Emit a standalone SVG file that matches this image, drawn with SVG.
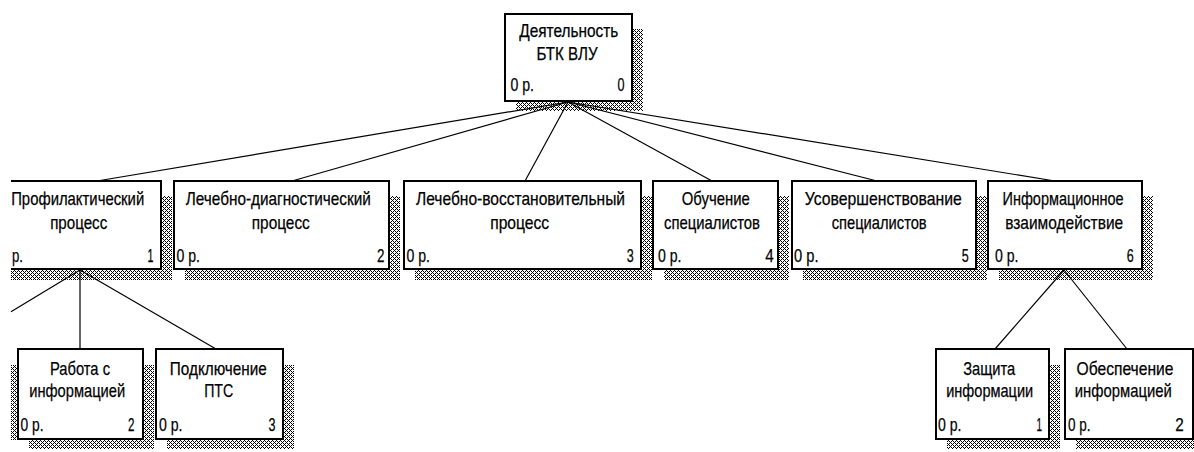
<svg xmlns="http://www.w3.org/2000/svg" width="1194" height="452" viewBox="0 0 1194 452">
  <defs>
    <!-- dithered cross-hatch used for the drop shadows -->
    <pattern id="hatch" width="4" height="4" patternUnits="userSpaceOnUse">
      <rect x="0" y="0" width="1" height="1" fill="#000"/>
      <rect x="1" y="1" width="1" height="1" fill="#000"/>
      <rect x="2" y="2" width="1" height="1" fill="#000"/>
      <rect x="3" y="3" width="1" height="1" fill="#000"/>
      <rect x="3" y="1" width="1" height="1" fill="#000"/>
      <rect x="1" y="3" width="1" height="1" fill="#000"/>
    </pattern>
    <clipPath id="page"><rect x="11" y="0" width="1183" height="452"/></clipPath>
  </defs>
  <style>
    .box { fill: #fff; stroke: #000; stroke-width: 2; shape-rendering: crispEdges; }
    .shadow { fill: url(#hatch); shape-rendering: crispEdges; }
    .edge { fill: none; stroke: #000; stroke-width: 1.2; }
    text { font-family: "Liberation Sans", Arial, sans-serif; font-size: 18.5px; fill: #000; stroke: #000; stroke-width: 0.25; }
    .c { text-anchor: middle; }
    .r { text-anchor: end; }
  </style>
  <rect x="0" y="0" width="1194" height="452" fill="#fff"/>

  <g id="connectors" class="edge">
    <line x1="568" y1="102" x2="97" y2="181"/>
    <line x1="568" y1="102" x2="292" y2="181"/>
    <line x1="568" y1="102" x2="525" y2="181"/>
    <line x1="568" y1="102" x2="712" y2="181"/>
    <line x1="568" y1="102" x2="877" y2="181"/>
    <line x1="568" y1="102" x2="1055" y2="181"/>
    <line x1="80" y1="270" x2="11" y2="311.7"/>
    <line x1="80" y1="270" x2="80" y2="349"/>
    <line x1="80" y1="270" x2="216" y2="349"/>
    <line x1="1064" y1="270" x2="995" y2="349"/>
    <line x1="1064" y1="270" x2="1127" y2="349"/>
  </g>

  <!-- shadow of a sibling box lying outside the page -->
  <rect class="shadow" x="11" y="365" width="6" height="75"/>

  <g id="node-0">
    <rect class="shadow" x="516" y="29" width="127" height="82"/>
    <rect class="box" x="505" y="14" width="127" height="87"/>
    <text class="c" x="568.8" y="37" textLength="99" lengthAdjust="spacingAndGlyphs">Деятельность</text>
    <text class="c" x="567" y="60" textLength="61" lengthAdjust="spacingAndGlyphs">БТК ВЛУ</text>
    <text x="510.5" y="90.5" textLength="23.5" lengthAdjust="spacingAndGlyphs">0 р.</text>
    <text class="r" x="624.5" y="90.5" textLength="7" lengthAdjust="spacingAndGlyphs">0</text>
  </g>

  <g id="node-1" clip-path="url(#page)">
    <rect class="shadow" x="6" y="196" width="166" height="84"/>
    <rect x="-5" y="181" width="166" height="88" fill="#fff"/>
    <path d="M11,181 H161 V269 H11" fill="none" stroke="#000" stroke-width="2" shape-rendering="crispEdges"/>
    <text class="c" x="77.7" y="205" textLength="133" lengthAdjust="spacingAndGlyphs">Профилактический</text>
    <text class="c" x="78.7" y="229" textLength="57" lengthAdjust="spacingAndGlyphs">процесс</text>
    <text x="12" y="261.5" textLength="11" lengthAdjust="spacingAndGlyphs">р.</text>
    <text class="r" x="153.5" y="261.5" textLength="6" lengthAdjust="spacingAndGlyphs">1</text>
  </g>

  <g id="node-2">
    <rect class="shadow" x="185" y="196" width="215" height="84"/>
    <rect class="box" x="174" y="181" width="215" height="88"/>
    <text class="c" x="278.3" y="205" textLength="185" lengthAdjust="spacingAndGlyphs">Лечебно-диагностический</text>
    <text class="c" x="280.8" y="229" textLength="58" lengthAdjust="spacingAndGlyphs">процесс</text>
    <text x="176.5" y="261.5" textLength="23.5" lengthAdjust="spacingAndGlyphs">0 р.</text>
    <text class="r" x="384.5" y="261.5" textLength="7.5" lengthAdjust="spacingAndGlyphs">2</text>
  </g>

  <g id="node-3">
    <rect class="shadow" x="415" y="196" width="237" height="84"/>
    <rect class="box" x="404" y="181" width="237" height="88"/>
    <text class="c" x="520.5" y="205" textLength="209" lengthAdjust="spacingAndGlyphs">Лечебно-восстановительный</text>
    <text class="c" x="519.7" y="229" textLength="59" lengthAdjust="spacingAndGlyphs">процесс</text>
    <text x="406.5" y="261.5" textLength="23.5" lengthAdjust="spacingAndGlyphs">0 р.</text>
    <text class="r" x="633.8" y="261.5" textLength="7" lengthAdjust="spacingAndGlyphs">3</text>
  </g>

  <g id="node-4">
    <rect class="shadow" x="664" y="196" width="125" height="84"/>
    <rect class="box" x="653" y="181" width="125" height="88"/>
    <text class="c" x="715.8" y="205" textLength="68" lengthAdjust="spacingAndGlyphs">Обучение</text>
    <text class="c" x="712" y="229" textLength="96" lengthAdjust="spacingAndGlyphs">специалистов</text>
    <text x="658" y="261.5" textLength="23.5" lengthAdjust="spacingAndGlyphs">0 р.</text>
    <text class="r" x="773.8" y="261.5" textLength="8.5" lengthAdjust="spacingAndGlyphs">4</text>
  </g>

  <g id="node-5">
    <rect class="shadow" x="803" y="196" width="184" height="84"/>
    <rect class="box" x="792" y="181" width="184" height="88"/>
    <text class="c" x="883.3" y="205" textLength="157" lengthAdjust="spacingAndGlyphs">Усовершенствование</text>
    <text class="c" x="879.2" y="229" textLength="95" lengthAdjust="spacingAndGlyphs">специалистов</text>
    <text x="794" y="261.5" textLength="24.5" lengthAdjust="spacingAndGlyphs">0 р.</text>
    <text class="r" x="968.8" y="261.5" textLength="7" lengthAdjust="spacingAndGlyphs">5</text>
  </g>

  <g id="node-6">
    <rect class="shadow" x="999" y="196" width="154" height="84"/>
    <rect class="box" x="988" y="181" width="154" height="88"/>
    <text class="c" x="1063" y="205" textLength="121" lengthAdjust="spacingAndGlyphs">Информационное</text>
    <text class="c" x="1064.2" y="229" textLength="118" lengthAdjust="spacingAndGlyphs">взаимодействие</text>
    <text x="995" y="261.5" textLength="23.5" lengthAdjust="spacingAndGlyphs">0 р.</text>
    <text class="r" x="1133.8" y="261.5" textLength="7" lengthAdjust="spacingAndGlyphs">6</text>
  </g>

  <g id="node-1-2">
    <rect class="shadow" x="29" y="365" width="125" height="84"/>
    <rect class="box" x="18" y="349" width="125" height="90"/>
    <text class="c" x="80" y="375" textLength="60" lengthAdjust="spacingAndGlyphs">Работа с</text>
    <text class="c" x="77.2" y="397" textLength="96" lengthAdjust="spacingAndGlyphs">информацией</text>
    <text x="20.5" y="430.5" textLength="23" lengthAdjust="spacingAndGlyphs">0 р.</text>
    <text class="r" x="134.5" y="430.5" textLength="6.5" lengthAdjust="spacingAndGlyphs">2</text>
  </g>

  <g id="node-1-3">
    <rect class="shadow" x="167" y="365" width="127" height="84"/>
    <rect class="box" x="156" y="349" width="127" height="90"/>
    <text class="c" x="218.3" y="375" textLength="97" lengthAdjust="spacingAndGlyphs">Подключение</text>
    <text class="c" x="218.7" y="397" textLength="29" lengthAdjust="spacingAndGlyphs">ПТС</text>
    <text x="159" y="430.5" textLength="23.5" lengthAdjust="spacingAndGlyphs">0 р.</text>
    <text class="r" x="275.5" y="430.5" textLength="7" lengthAdjust="spacingAndGlyphs">3</text>
  </g>

  <g id="node-6-1">
    <rect class="shadow" x="947" y="365" width="113" height="84"/>
    <rect class="box" x="936" y="349" width="113" height="90"/>
    <text class="c" x="989.2" y="375" textLength="52" lengthAdjust="spacingAndGlyphs">Защита</text>
    <text class="c" x="989.7" y="397" textLength="87" lengthAdjust="spacingAndGlyphs">информации</text>
    <text x="938" y="430.5" textLength="23.5" lengthAdjust="spacingAndGlyphs">0 р.</text>
    <text class="r" x="1042" y="430.5" textLength="5.5" lengthAdjust="spacingAndGlyphs">1</text>
  </g>

  <g id="node-6-2">
    <rect class="shadow" x="1076" y="365" width="128" height="84"/>
    <rect class="box" x="1065" y="349" width="128" height="90"/>
    <text class="c" x="1125" y="375" textLength="97" lengthAdjust="spacingAndGlyphs">Обеспечение</text>
    <text class="c" x="1123.3" y="397" textLength="97" lengthAdjust="spacingAndGlyphs">информацией</text>
    <text x="1068" y="430.5" textLength="22.5" lengthAdjust="spacingAndGlyphs">0 р.</text>
    <text class="r" x="1183.8" y="430.5" textLength="8.5" lengthAdjust="spacingAndGlyphs">2</text>
  </g>
</svg>
